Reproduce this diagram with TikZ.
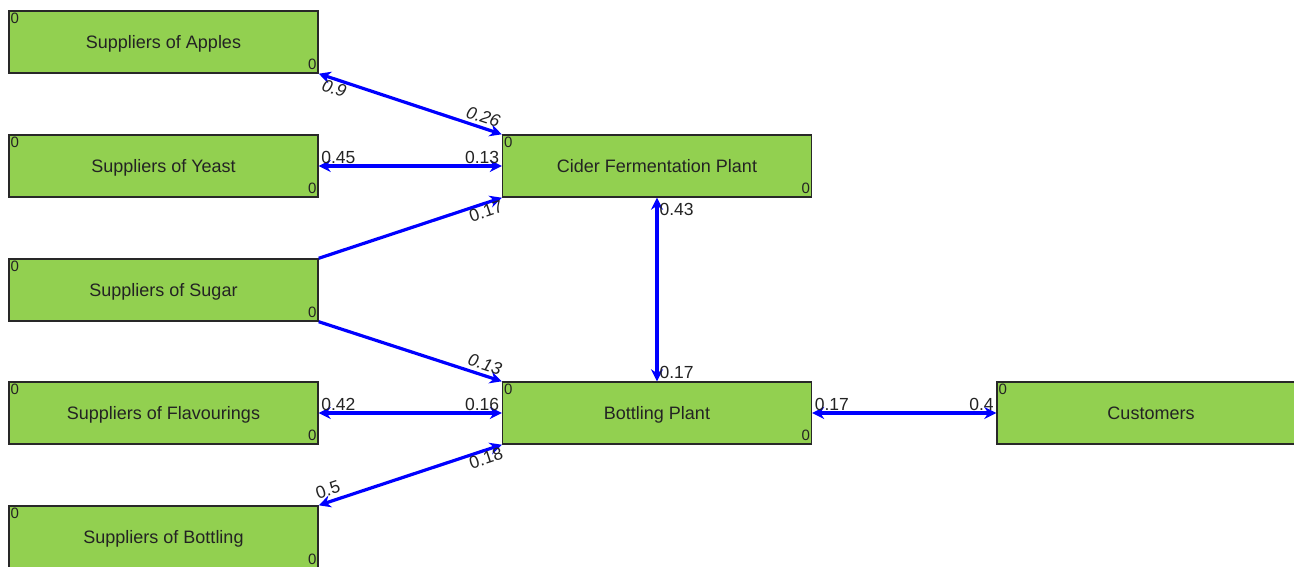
\documentclass[tikz,border=0pt]{standalone}
\usepackage{fontspec}
\setmainfont{Liberation Sans}
\usetikzlibrary{arrows.meta}
\definecolor{boxgreen}{RGB}{146,208,80}
\definecolor{boxedge}{RGB}{40,40,40}
\definecolor{txt}{RGB}{35,35,35}
\definecolor{flow}{RGB}{0,0,255}
\tikzset{
  unit/.style={draw=boxedge, line width=1.4pt, fill=boxgreen,
    minimum width=309pt, minimum height=62pt, inner sep=0pt, text depth=0pt,
    text=txt, font=\fontsize{18}{20}\selectfont},
  flowline/.style={draw=flow, line width=3.2pt},
  tip/.tip={Stealth[length=12pt,width=12pt]},
  both/.style={flowline, tip-tip},
  single/.style={flowline, -tip},
  lbl/.style={text=txt, font=\fontsize{17.5}{19}\selectfont, inner sep=1pt},
  ilbl/.style={lbl, font=\fontsize{17.5}{19}\selectfont\itshape},
  corner/.style={text=txt, font=\fontsize{15}{16}\selectfont, inner xsep=2pt, inner ysep=2.5pt},
}
\begin{document}
\begin{tikzpicture}[x=1pt, y=-1pt]
  \clip (0,0) rectangle (1294,566);
  \fill[white] (0,0) rectangle (1294,566);

  % supplier column
  \node[unit] (apples)  at (163.5, 42)  {Suppliers of Apples};
  \node[unit] (yeast)   at (163.5, 166) {Suppliers of Yeast};
  \node[unit] (sugar)   at (163.5, 290) {Suppliers of Sugar};
  \node[unit] (flavour) at (163.5, 413) {Suppliers of Flavourings};
  \node[unit] (bottles) at (163.5, 537) {Suppliers of Bottling};

  % production and demand
  \node[unit] (cider)     at (657, 166)  {Cider Fermentation Plant};
  \node[unit] (bottling)  at (657, 413)  {Bottling Plant};
  \node[unit, minimum width=308pt] (customers) at (1151, 413) {Customers};

  % corner counters
  \foreach \n in {apples,yeast,sugar,flavour,bottles,cider,bottling,customers}{
    \node[corner, anchor=north west] (\n-in)  at (\n.north west) {0};
    \node[corner, anchor=south east, inner ysep=4pt] (\n-out) at (\n.south east) {0};
  }

  % flows
  \draw[both] (apples.south east) --
    node[ilbl, pos=0.1, sloped, below] (l-apples-a) {0.9}
    node[ilbl, pos=0.88, sloped, above=2pt] (l-apples-b) {0.26}
    (cider.north west);
  \draw[both] (yeast.east) --
    node[lbl, pos=0, anchor=south west] (l-yeast-a) {0.45}
    node[lbl, pos=1, anchor=south east] (l-yeast-b) {0.13}
    (cider.west);
  \draw[single] (sugar.north east) --
    node[lbl, pos=0.9, sloped, below, inner sep=0pt] (l-sugar-a) {0.17}
    (cider.south west);
  \draw[single] (sugar.south east) --
    node[ilbl, pos=0.89, sloped, above=2pt] (l-sugar-b) {0.13}
    (bottling.north west);
  \draw[both] (flavour.east) --
    node[lbl, pos=0, anchor=south west] (l-flav-a) {0.42}
    node[lbl, pos=1, anchor=south east] (l-flav-b) {0.16}
    (bottling.west);
  \draw[both] (bottles.north east) --
    node[lbl, pos=0.07, sloped, above=3pt] (l-bot-a) {0.5}
    node[lbl, pos=0.9, sloped, below, inner sep=0pt] (l-bot-b) {0.18}
    (bottling.south west);
  \draw[both] (cider.south) --
    node[lbl, pos=0, anchor=north west, yshift=-3pt] (l-cb-a) {0.43}
    node[lbl, pos=1, anchor=south west] (l-cb-b) {0.17}
    (bottling.north);
  \draw[both] (bottling.east) --
    node[lbl, pos=0, anchor=south west] (l-cust-a) {0.17}
    node[lbl, pos=1, anchor=south east] (l-cust-b) {0.4}
    (customers.west);
\end{tikzpicture}
\end{document}
